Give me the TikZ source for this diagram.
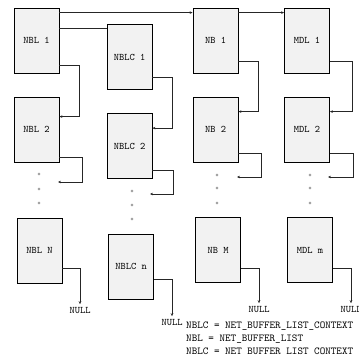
\documentclass[tikz,border=0pt]{standalone}
\usetikzlibrary{arrows.meta}

\begin{document}
\begin{tikzpicture}[x=1pt, y=-1pt, >={Stealth[length=3pt,width=2.6pt]},
  buf/.style={draw=black, fill=black!5, line width=0.8pt, minimum width=45pt,
    minimum height=65pt, inner sep=0pt, font=\ttfamily\fontsize{10}{12}\selectfont},
  wire/.style={line width=0.7pt, black!85},
  link/.style={wire, ->},
  nul/.style={inner sep=3pt, font=\ttfamily\fontsize{10}{12}\selectfont},
  dotc/.style={draw=black!55, line width=0.4pt}]
\useasboundingbox (0,0) rectangle (358,363);
% buffer columns
\node[buf] (nbl1) at (36.5,40.5)  {NBL 1};
\node[buf] (nbl2) at (36.5,129.5) {NBL 2};
\node[buf] (nblN) at (39.5,250.5) {NBL N};
\node[buf] (nblc1) at (129.5,57)  {NBLC 1};
\node[buf] (nblc2) at (129.5,146) {NBLC 2};
\node[buf] (nblcn) at (131,266.5) {NBLC n};
\node[buf] (nb1) at (215.5,40.5)  {NB 1};
\node[buf] (nb2) at (215.5,129.5) {NB 2};
\node[buf] (nbM) at (218,250)     {NB M};
\node[buf] (mdl1) at (307,40.5)   {MDL 1};
\node[buf] (mdl2) at (307,129.5)  {MDL 2};
\node[buf] (mdlm) at (310,250)    {MDL m};
\node[nul] (null1) at (80,310.5)  {NULL};
\node[nul] (null2) at (172,322.5) {NULL};
\node[nul] (null3) at (259,309.5) {NULL};
\node[nul] (null4) at (351,309.5) {NULL};
% across the top
\coordinate (t1) at ([yshift=-5pt]nbl1.north east);
\coordinate (t2) at ([yshift=-5pt]nb1.north east);
\coordinate (t3) at ([yshift=-21pt]nbl1.north east);
\draw[link] (t1) -- (t1 -| nb1.west);
\draw[link] (t2) -- (t2 -| mdl1.west);
\draw[wire] (t3) -- (t3 -| nblc1.west);
% down the columns
\draw[link] ([yshift=8pt]nbl1.south east) -- ++(20,0) |- ([yshift=-20pt]nbl2.north east);
\draw[link] ([yshift=13pt]nblc1.south east) -- ++(20,0) |- ([yshift=-15pt]nblc2.north east);
\draw[link] ([yshift=12pt]nb1.south east) -- ++(20,0) |- ([yshift=-15pt]nb2.north east);
\draw[link] ([yshift=12pt]mdl1.south east) -- ++(22,0) |- ([yshift=-15pt]mdl2.north east);
\coordinate (e1) at (58,182);
\coordinate (e2) at (150,194);
\coordinate (e3) at (237,177);
\coordinate (e4) at (328,177);
\draw[link] ([yshift=5pt]nbl2.south east) -- ++(23,0) |- (e1);
\draw[link] ([yshift=9pt]nblc2.south east) -- ++(21,0) |- (e2);
\draw[link] ([yshift=9pt]nb2.south east) -- ++(23,0) |- (e3);
\draw[link] ([yshift=9pt]mdl2.south east) -- ++(23,0) |- (e4);
\draw[link] ([yshift=15pt]nblN.south east) -| (null1.north);
\draw[link] ([yshift=20pt]nblcn.south east) -| (null2.north);
\draw[link] ([yshift=15pt]nbM.south east) -| (null3.north);
\draw[link] ([yshift=15pt]mdlm.south east) -| (null4.north);
% ellipsis dots
\foreach \x/\y in {39/174, 39/189, 39/203, 132/191, 132/205, 132/219,
                   217/175, 217/188, 217/203, 310/175, 310/188, 310/203}{
    \draw[dotc] (\x,\y) circle (1.2pt);
}
\node[anchor=north west, align=left, inner sep=0pt,
      font=\ttfamily\fontsize{10.6}{13}\selectfont] (key) at (186,322)
  {NBLC = NET\_BUFFER\_LIST\_CONTEXT\\NBL = NET\_BUFFER\_LIST\\NBLC = NET BUFFER LIST CONTEXT};
\end{tikzpicture}
\end{document}
